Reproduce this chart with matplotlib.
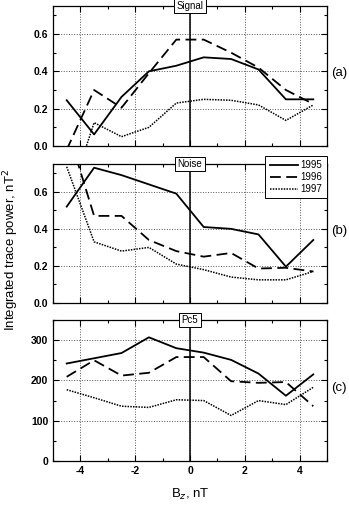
import numpy as np
import matplotlib.pyplot as plt
from matplotlib.ticker import MultipleLocator

plt.rcParams['font.family'] = ['Liberation Sans', 'DejaVu Sans']
plt.rcParams['axes.unicode_minus'] = False

bz = [-4.5, -3.5, -2.5, -1.5, -0.5, 0.5, 1.5, 2.5, 3.5, 4.5]
years = ["1995", "1996", "1997"]

# Signal
sig_1995 = [0.245, 0.062, 0.263, 0.40, 0.43, 0.475, 0.466, 0.41, 0.25, 0.25]
sig_1996 = [-0.02, 0.30, 0.205, 0.39, 0.57, 0.57, 0.50, 0.42, 0.30, 0.225]
sig_1997 = [-0.32, 0.125, 0.05, 0.10, 0.23, 0.25, 0.245, 0.22, 0.137, 0.22]
# Noise
noi_1995 = [0.52, 0.73, 0.69, 0.64, 0.59, 0.41, 0.40, 0.37, 0.196, 0.34]
noi_1996 = [0.95, 0.47, 0.47, 0.34, 0.28, 0.25, 0.27, 0.186, 0.19, 0.17]
noi_1997 = [0.735, 0.33, 0.28, 0.30, 0.21, 0.18, 0.14, 0.125, 0.125, 0.17]
# Pc5
pc5_1995 = [242, 255, 268, 307, 280, 269, 251, 217, 162, 215]
pc5_1996 = [209, 250, 212, 219, 258, 258, 198, 194, 196, 136]
pc5_1997 = [177, 157, 136, 133, 152, 150, 113, 150, 140, 183]

panels = [
    ("Signal", "(a)", [sig_1995, sig_1996, sig_1997], 0.75, 0.2, 0.1, "%.1f"),
    ("Noise", "(b)", [noi_1995, noi_1996, noi_1997], 0.75, 0.2, 0.1, "%.1f"),
    ("Pc5", "(c)", [pc5_1995, pc5_1996, pc5_1997], 350, 100, 50, "%d"),
]
styles = [dict(ls='-', lw=1.3), dict(ls=(0, (6, 3)), lw=1.3), dict(ls=(0, (1, 0.8)), lw=1.1)]

W, H = 349, 507
fig = plt.figure(figsize=(W / 100, H / 100), dpi=100)
boxes = [(6, 146), (164, 303), (320, 461)]
left, right = 53, 327

for i, (name, tag, series, ymax, major, minor, fmt) in enumerate(panels):
    top, bot = boxes[i]
    ax = fig.add_axes([left / W, 1 - bot / H, (right - left) / W, (bot - top) / H])
    for s, yr, st in zip(series, years, styles):
        ax.plot(bz, s, color='black', label=yr, **st)
    ax.axvline(0, color='black', lw=1.1)
    ax.set_xlim(-5, 5)
    ax.set_ylim(0, ymax)
    ax.xaxis.set_major_locator(MultipleLocator(2))
    ax.xaxis.set_minor_locator(MultipleLocator(1))
    ax.yaxis.set_major_locator(MultipleLocator(major))
    ax.yaxis.set_minor_locator(MultipleLocator(minor))
    ax.yaxis.set_major_formatter(plt.FormatStrFormatter(fmt))
    ax.grid(True, which='major', ls=':', lw=0.7, color='#555555')
    ax.tick_params(which='both', direction='in', top=True, right=True, width=0.8)
    ax.tick_params(which='major', length=4, labelsize=7.5)
    ax.tick_params(which='minor', length=2.5)
    for lab in ax.get_yticklabels() + ax.get_xticklabels():
        lab.set_fontweight('bold')
    for sp in ax.spines.values():
        sp.set_linewidth(0.9)
    if i < 2:
        ax.tick_params(labelbottom=False)
    else:
        ax.set_xlabel("B$_z$, nT", fontsize=9.5, labelpad=8)
    ax.text(0, 1.0, name, transform=ax.get_xaxis_transform(), ha='center', va='center',
            fontsize=7, bbox=dict(boxstyle='square,pad=0.25', fc='white', ec='black', lw=0.7),
            zorder=5)
    ax.text(1.015, 0.52, tag, transform=ax.transAxes, ha='left', va='center', fontsize=9.5)
    if i == 1:
        leg = ax.legend(loc='upper right', bbox_to_anchor=(1.0, 1.06), borderaxespad=0,
                        fontsize=7, frameon=True, fancybox=False, edgecolor='black',
                        handlelength=2.9, handletextpad=0.3, borderpad=0.45,
                        labelspacing=0.2, framealpha=1)
        leg.get_frame().set_linewidth(0.7)
        leg.set_zorder(6)

fig.text(11 / W, 1 - 250 / H, "Integrated trace power, nT$^2$", rotation=90,
         ha='center', va='center', fontsize=9.5)

fig.savefig("out.png", dpi=100)
